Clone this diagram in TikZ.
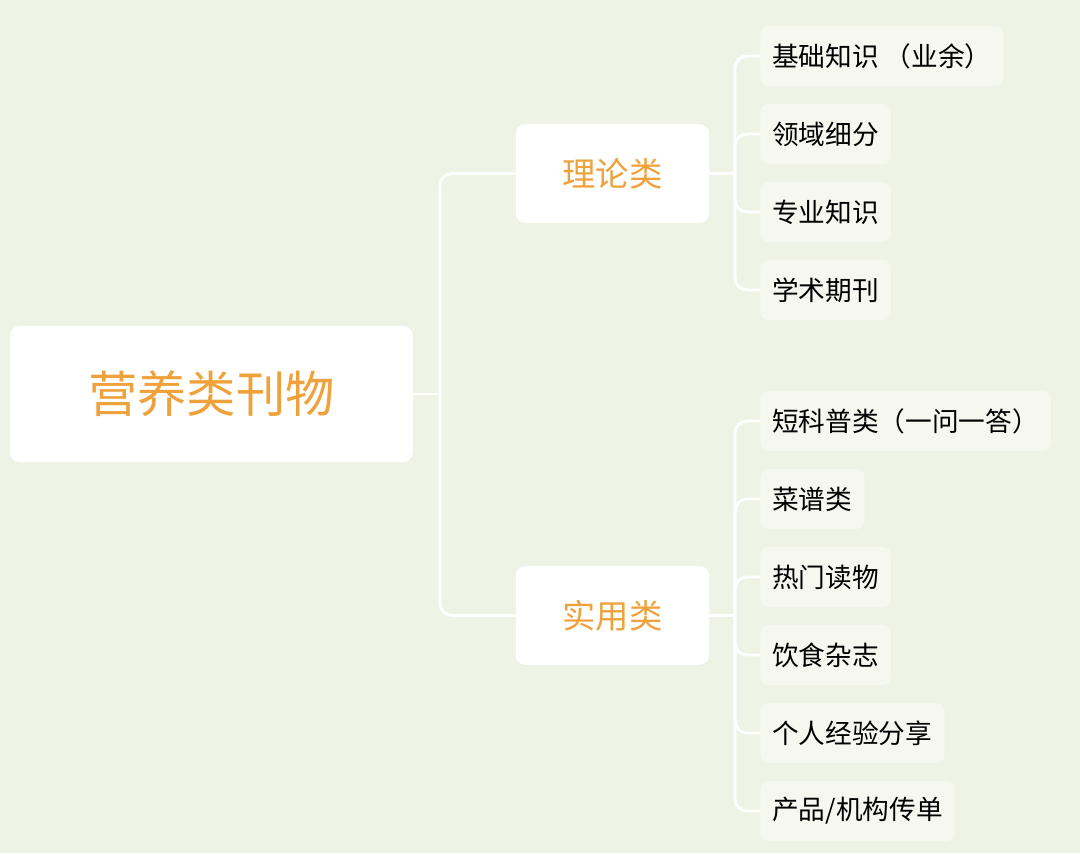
\documentclass[tikz,border=0pt]{standalone}
\usepackage{fontspec}
\setmainfont{Noto Sans CJK SC}
\definecolor{bgc}{HTML}{EEF3E6}
\definecolor{leafc}{HTML}{F6F8EF}
\definecolor{orng}{HTML}{EFA23C}
\tikzset{
  rootbox/.style={fill=white, rounded corners=7, minimum width=302, minimum height=102, font=\fontsize{37}{40}\selectfont, text=orng},
  midbox/.style={fill=white, rounded corners=7, minimum width=145, minimum height=74, font=\fontsize{25}{28}\selectfont, text=orng},
  leafbox/.style={fill=leafc, rounded corners=6, anchor=west, minimum height=45, inner xsep=9, font=\fontsize{20}{22}\selectfont},
  link/.style={white, line width=2.2, rounded corners=9}
}
\begin{document}
\begin{tikzpicture}[x=0.75pt, y=-0.75pt]
    % Background
    \fill[bgc] (0,0) rectangle (1080,853);
    \useasboundingbox (0,0) rectangle (1080,853);

    % Root and branches
    \node[rootbox] (root) at (211.5,394) {营养类刊物};
    \node[midbox] (theory) at (612.5,173.5) {理论类};
    \node[midbox] (practice) at (612.5,615.5) {实用类};

    % Leaves
    \node[leafbox] (t1) at (760,56) {基础知识 （业余）};
    \node[leafbox] (t2) at (760,134) {领域细分};
    \node[leafbox] (t3) at (760,212) {专业知识};
    \node[leafbox] (t4) at (760,290) {学术期刊};
    \node[leafbox] (p1) at (760,421) {短科普类（一问一答）};
    \node[leafbox] (p2) at (760,499) {菜谱类};
    \node[leafbox] (p3) at (760,577) {热门读物};
    \node[leafbox] (p4) at (760,655) {饮食杂志};
    \node[leafbox] (p5) at (760,733) {个人经验分享};
    \node[leafbox] (p6) at (760,811) {产品/机构传单};

    % Connectors
    \coordinate (rj) at (440,394);
    \draw[link] (root.east) -- (rj);
    \foreach \m in {theory, practice}
        \draw[link] (rj) |- (\m.west);
    \coordinate (tj) at (735,173.5);
    \coordinate (pj) at (735,615.5);
    \draw[link] (theory.east) -- (tj);
    \draw[link] (practice.east) -- (pj);
    \foreach \l in {t1,t2,t3,t4}
        \draw[link] (tj) |- (\l.west);
    \foreach \l in {p1,p2,p3,p4,p5,p6}
        \draw[link] (pj) |- (\l.west);
\end{tikzpicture}
\end{document}
